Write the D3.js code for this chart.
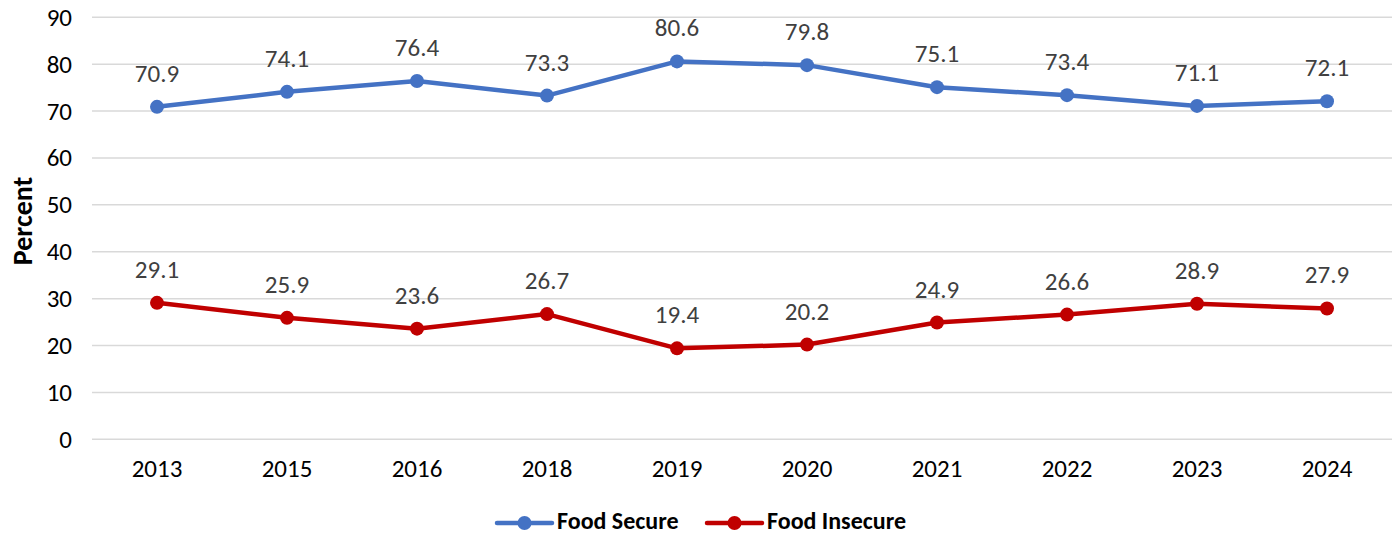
<!DOCTYPE html>
<html><head><meta charset="utf-8">
<script src="https://cdn.jsdelivr.net/npm/d3@7"></script>
<style>body{margin:0;background:#fff}</style>
</head><body>
<svg id="c" width="1400" height="537"></svg>
<script>
const years = ["2013","2015","2016","2018","2019","2020","2021","2022","2023","2024"];
const foodSecure = [70.9,74.1,76.4,73.3,80.6,79.8,75.1,73.4,71.1,72.1];
const foodInsecure = [29.1,25.9,23.6,26.7,19.4,20.2,24.9,26.6,28.9,27.9];
const yTicks = [0,10,20,30,40,50,60,70,80,90];
const seriesNames = ["Food Secure","Food Insecure"];
const seriesColors = ["#4472C4","#C00000"];

const svg = d3.select("#c");
const font = "Carlito, Calibri, Lato, sans-serif";
const x = d3.scaleBand().domain(years).range([92,1392]);
const y = d3.scaleLinear().domain([0,90]).range([439.3,17.3]);

svg.append("g").selectAll("line").data(yTicks).join("line")
  .attr("x1",92).attr("x2",1392)
  .attr("y1",d=>y(d)).attr("y2",d=>y(d))
  .attr("stroke","#d9d9d9").attr("stroke-width",1.5);

const ya = svg.append("g").attr("transform","translate(72,0)")
  .call(d3.axisLeft(y).tickValues(yTicks).tickSize(0).tickPadding(0));
ya.select(".domain").remove();
ya.selectAll("text").attr("font-family",font).attr("font-size",25).attr("fill","#000");

const xa = svg.append("g").attr("transform","translate(0,456)")
  .call(d3.axisBottom(x).tickSize(0).tickPadding(3));
xa.select(".domain").remove();
xa.selectAll("text").attr("font-family",font).attr("font-size",25).attr("fill","#000");

svg.append("text").attr("transform","translate(32,221) rotate(-90)")
  .attr("text-anchor","middle").attr("font-family",font).attr("font-weight","bold")
  .attr("font-size",28).attr("fill","#000").text("Percent");

const cx = d=>x(d)+x.bandwidth()/2;
const data = [foodSecure, foodInsecure];
data.forEach((vals,i)=>{
  const pts = years.map((yr,j)=>({yr, v:vals[j]}));
  svg.append("path").datum(pts)
    .attr("d", d3.line().x(d=>cx(d.yr)).y(d=>y(d.v)))
    .attr("fill","none").attr("stroke",seriesColors[i]).attr("stroke-width",4.5)
    .attr("stroke-linejoin","round").attr("stroke-linecap","round");
  svg.append("g").selectAll("circle").data(pts).join("circle")
    .attr("cx",d=>cx(d.yr)).attr("cy",d=>y(d.v)).attr("r",7)
    .attr("fill",seriesColors[i]);
  svg.append("g").selectAll("text").data(pts).join("text")
    .attr("x",d=>cx(d.yr)).attr("y",d=>y(d.v)-25)
    .attr("text-anchor","middle").attr("font-family",font).attr("font-size",25)
    .attr("fill","#404040").text(d=>d.v.toFixed(1));
});

const leg = [{x:497, tx:557},{x:707, tx:767}];
seriesNames.forEach((n,i)=>{
  const g = svg.append("g");
  g.append("line").attr("x1",leg[i].x).attr("x2",leg[i].x+55).attr("y1",523).attr("y2",523)
    .attr("stroke",seriesColors[i]).attr("stroke-width",4.5).attr("stroke-linecap","round");
  g.append("circle").attr("cx",leg[i].x+27.5).attr("cy",523).attr("r",7).attr("fill",seriesColors[i]);
  g.append("text").attr("x",leg[i].tx).attr("y",529)
    .attr("font-family",font).attr("font-weight","bold").attr("font-size",24)
    .attr("fill","#000").text(n);
});
</script>
</body></html>
